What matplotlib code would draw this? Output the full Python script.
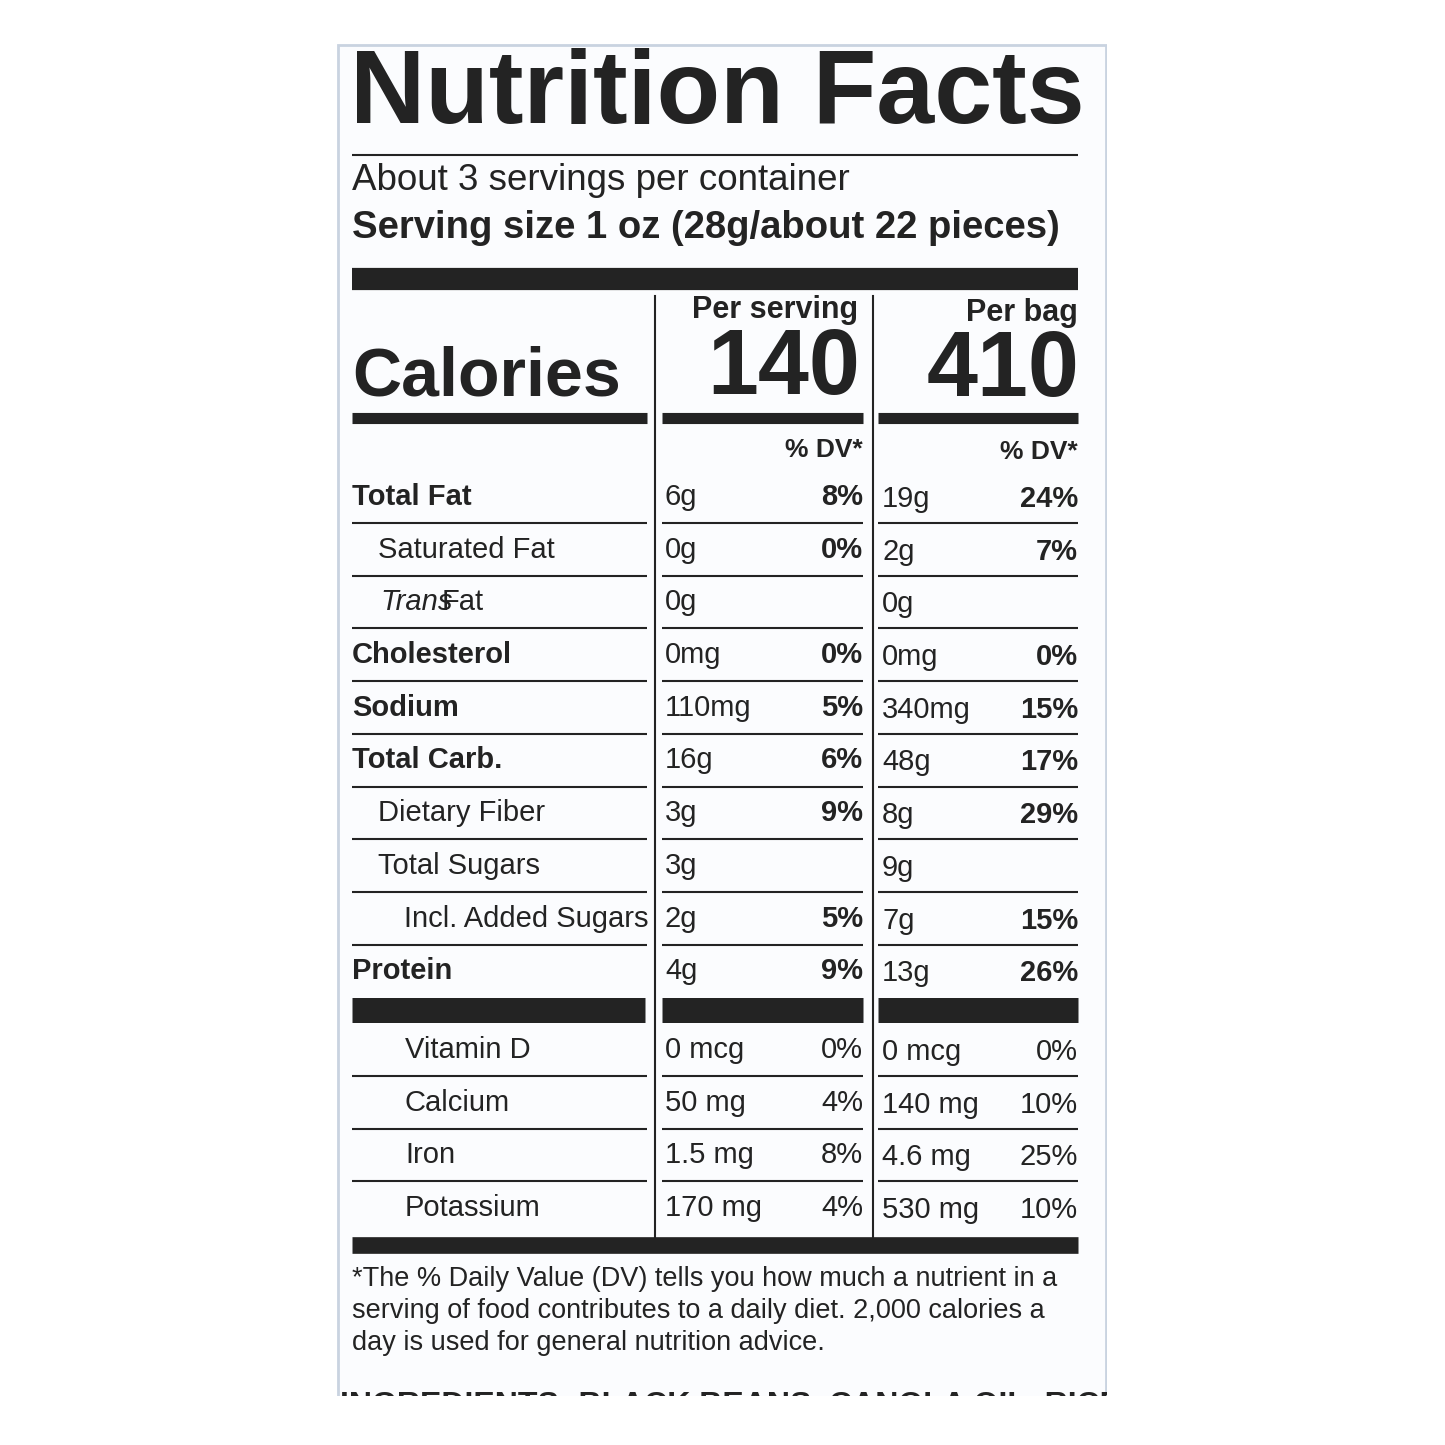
import matplotlib
matplotlib.use("Agg")
import matplotlib.pyplot as plt
from matplotlib.patches import Rectangle

title = "Nutrition Facts"
servings = "About 3 servings per container"
serving_size = "Serving size 1 oz (28g/about 22 pieces)"
col_heads = ["Per serving", "Per bag"]
calories = ["140", "410"]
nutrients = ["Total Fat", "Saturated Fat", "Trans Fat", "Cholesterol", "Sodium",
             "Total Carb.", "Dietary Fiber", "Total Sugars", "Incl. Added Sugars", "Protein"]
indent = [0, 1, 1, 0, 0, 0, 1, 1, 2, 0]
serv_amt = ["6g", "0g", "0g", "0mg", "110mg", "16g", "3g", "3g", "2g", "4g"]
serv_dv = ["8%", "0%", "", "0%", "5%", "6%", "9%", "", "5%", "9%"]
bag_amt = ["19g", "2g", "0g", "0mg", "340mg", "48g", "8g", "9g", "7g", "13g"]
bag_dv = ["24%", "7%", "", "0%", "15%", "17%", "29%", "", "15%", "26%"]
vitamins = ["Vitamin D", "Calcium", "Iron", "Potassium"]
vit_serv_amt = ["0 mcg", "50 mg", "1.5 mg", "170 mg"]
vit_serv_dv = ["0%", "4%", "8%", "4%"]
vit_bag_amt = ["0 mcg", "140 mg", "4.6 mg", "530 mg"]
vit_bag_dv = ["0%", "10%", "25%", "10%"]
footnote = ["*The % Daily Value (DV) tells you how much a nutrient in a",
            "serving of food contributes to a daily diet. 2,000 calories a",
            "day is used for general nutrition advice."]
ingredients = "INGREDIENTS: BLACK BEANS, CANOLA OIL, RICE, MANGO"

plt.rcParams['font.family'] = ['Liberation Sans', 'DejaVu Sans']
fig = plt.figure(figsize=(14.45, 14.45), dpi=100)
ax = fig.add_axes([0, 0, 1, 1])
ax.set_xlim(0, 1445); ax.set_ylim(1445, 0); ax.axis('off')
fig.patch.set_facecolor('white')
ax.add_patch(Rectangle((338, 45), 768, 1360, fc='#fbfcfe', ec='#c9d3e0', lw=2, zorder=0))

TXT = '#232323'
def t(x, y, s, size, w='normal', ha='left', style='normal', **kw):
    return ax.text(x, y, s, fontsize=size, fontweight=w, ha=ha, va='center', color=TXT,
                   fontstyle=style, **kw)
def hl(x0, x1, y, lw):
    ax.plot([x0, x1], [y, y], color=TXT, lw=lw, solid_capstyle='butt')

L, M0, M1, R0, R1 = 352, 662, 863, 878, 1078
t(350, 97, title, 75, 'heavy')
hl(352, 1078, 155, 1.5)
t(352, 180, servings, 26.5)
t(352, 228, serving_size, 27.5, 'bold')
hl(352, 1078, 279, 16)
for x in (655, 873):
    ax.plot([x, x], [296, 1240], color=TXT, lw=1.5)
t(858, 310, col_heads[0], 22, 'bold', 'right')
t(1078, 313, col_heads[1], 22, 'bold', 'right')
t(352, 377, "Calories", 49, 'heavy')
t(860, 370, calories[0], 66, 'heavy', 'right')
t(1080, 372, calories[1], 66, 'heavy', 'right')
for a, b in ((L, 647), (M0, M1), (R0, R1)):
    hl(a, b, 418, 8)
t(M1, 450, "% DV*", 19, 'bold', 'right')
t(R1, 452, "% DV*", 19, 'bold', 'right')

y0, dy = 497, 52.7
for i, n in enumerate(nutrients):
    y = y0 + i * dy
    bold = indent[i] == 0
    if n == "Trans Fat":
        ax.text(380, y, "Trans", fontsize=21, fontstyle='italic', va='center', color=TXT)
        t(442, y, "Fat", 21)
    else:
        t(352 + indent[i] * 26, y, n, 21, 'bold' if bold else 'normal')
    t(665, y, serv_amt[i], 21)
    t(M1, y, serv_dv[i], 21, 'bold', 'right')
    t(882, y + 2, bag_amt[i], 21)
    t(R1, y + 2, bag_dv[i], 21, 'bold', 'right')
    if i < len(nutrients) - 1:
        for a, b in ((L, 647), (M0, M1), (R0, R1)):
            hl(a, b, y + 26, 1.5)
yb = y0 + len(nutrients) * dy - 14
for a, b in ((L, 645), (M0, M1), (R0, R1)):
    hl(a, b, yb, 18)
for i, n in enumerate(vitamins):
    y = 1050 + i * dy
    t(405, y, n, 21)
    t(665, y, vit_serv_amt[i], 21)
    t(M1, y, vit_serv_dv[i], 21, ha='right')
    t(882, y + 2, vit_bag_amt[i], 21)
    t(R1, y + 2, vit_bag_dv[i], 21, ha='right')
    if i < len(vitamins) - 1:
        for a, b in ((L, 647), (M0, M1), (R0, R1)):
            hl(a, b, y + 26, 1.5)
hl(352, 1078, 1245, 12)
for i, s in enumerate(footnote):
    t(352, 1279 + i * 32, s, 19.5)
tx = t(340, 1406, ingredients, 23, 'heavy', zorder=1)
ax.add_patch(Rectangle((0, 1396), 1445, 60, fc='white', ec='none', zorder=5))
ax.add_patch(Rectangle((1107, 0), 400, 1445, fc='white', ec='none', zorder=5))
fig.savefig("out.png", dpi=100, facecolor='white')
